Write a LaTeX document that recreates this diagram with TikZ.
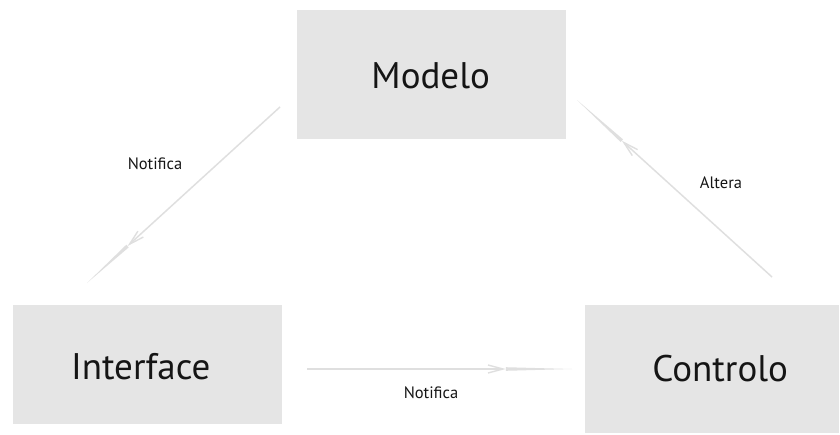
\documentclass[tikz,border=0pt]{standalone}
\usepackage{fontspec}
\setmainfont{PT Sans}
\usetikzlibrary{arrows.meta,calc}
\definecolor{boxgray}{HTML}{E5E5E5}
\definecolor{flowgray}{HTML}{DFDFDF}
\definecolor{inkblack}{HTML}{151515}
\tikzset{
  block/.style={fill=boxgray, draw=none, inner sep=0pt, anchor=north west},
  blocktext/.style={text=inkblack, font=\fontsize{37}{40}\selectfont},
  flow/.style={draw=flowgray, line width=1.5pt,
    -{Straight Barb[length=15pt,width=8pt,line width=1.4pt]}},
  tail/.style={fill=flowgray, draw=none},
  tag/.style={font=\fontsize{16.5}{18}\selectfont, text=inkblack, inner sep=0pt},
}
\begin{document}
\begin{tikzpicture}[x=1pt,y=-1pt]
  \useasboundingbox (0,0) rectangle (840,434);

  % the three components
  \node[block, minimum width=269pt, minimum height=129pt] (modelo) at (297,10) {};
  \node[blocktext] (modelotxt) at ($(modelo.center)+(-1,1)$) {Modelo};
  \node[block, minimum width=269pt, minimum height=119pt] (interface) at (13,305) {};
  \node[blocktext] (interfacetxt) at ($(interface.center)+(-7,2)$) {Interface};
  \node[block, minimum width=254pt, minimum height=128pt] (controlo) at (585,305) {};
  \node[blocktext] (controlotxt) at ($(controlo.center)+(8,-1)$) {Controlo};

  % free ends of the connectors
  \coordinate (n1s) at (280,107);
  \coordinate (n1e) at (87,283);
  \coordinate (als) at (772,277);
  \coordinate (ale) at (577,100);
  \coordinate (n2s) at (307,369);
  \coordinate (n2e) at (572,369);

  % arrow tips sit part-way along each line
  \coordinate (n1t) at ($(n1s)!0.79!(n1e)$);
  \coordinate (alt) at ($(als)!0.77!(ale)$);
  \coordinate (n2t) at ($(n2s)!0.75!(n2e)$);

  % Modelo -> Interface
  \draw[flow] (n1s) -- (n1t);
  \fill[tail] ($(n1t)!1.8pt!90:(n1e)$) -- (n1e) -- ($(n1t)!1.8pt!-90:(n1e)$) -- cycle;
  % Controlo -> Modelo
  \draw[flow] (als) -- (alt);
  \fill[tail] ($(alt)!1.8pt!90:(ale)$) -- (ale) -- ($(alt)!1.8pt!-90:(ale)$) -- cycle;
  % Interface -> Controlo
  \draw[flow] (n2s) -- (n2t);
  \fill[tail] ($(n2t)!1.8pt!90:(n2e)$) -- (n2e) -- ($(n2t)!1.8pt!-90:(n2e)$) -- cycle;

  % connector labels
  \node[tag] (lbl1) at (155,164) {Notifica};
  \node[tag] (lbl2) at (721,183) {Altera};
  \node[tag] (lbl3) at (431,393) {Notifica};
\end{tikzpicture}
\end{document}
